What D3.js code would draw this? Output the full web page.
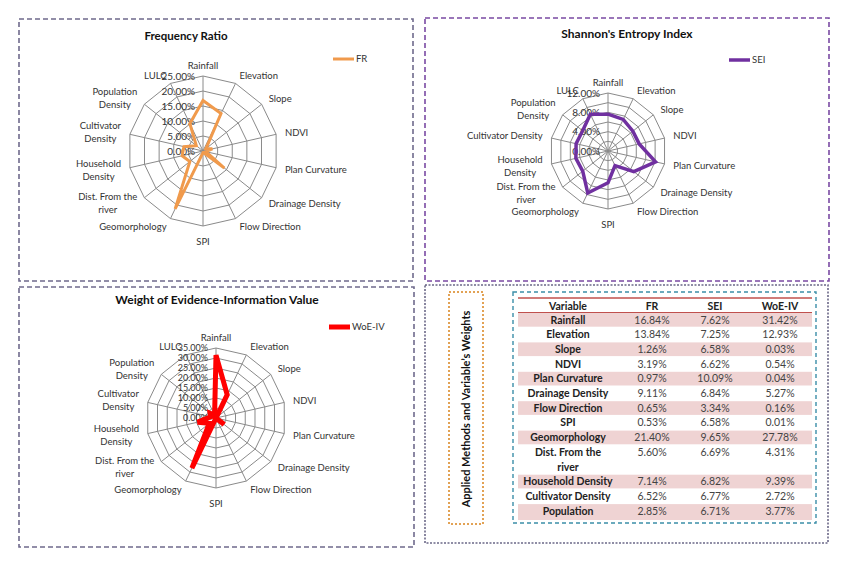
<!DOCTYPE html>
<html>
<head>
<meta charset="utf-8">
<script src="https://cdn.jsdelivr.net/npm/d3@7"></script>
<style>
  body { margin: 0; background: #fff; }
  svg { font-family: Lato, 'Open Sans', sans-serif; }
</style>
</head>
<body>
<svg id="chart" width="850" height="565"></svg>
<script>
// Variables (spokes of every radar, clockwise from the top)
var variables = ['Rainfall', 'Elevation', 'Slope', 'NDVI', 'Plan Curvature', 'Drainage Density',
  'Flow Direction', 'SPI', 'Geomorphology', 'Dist. From the river', 'Household Density',
  'Cultivator Density', 'Population Density', 'LULC'];

// weights in percent
var frValues = [16.84, 13.84, 1.26, 3.19, 0.97, 9.11, 0.65, 0.53, 21.40, 5.60, 7.14, 6.52, 2.85, 10.10];
var seiValues = [7.62, 7.25, 6.58, 6.62, 10.09, 6.84, 3.34, 6.58, 9.65, 6.69, 6.82, 6.77, 6.71, 8.44];
var woeValues = [31.42, 12.93, 0.03, 0.54, 0.04, 5.27, 0.16, 0.01, 27.78, 4.31, 9.39, 2.72, 3.77, 1.63];

// axis ticks
var frTicks = [0, 5, 10, 15, 20, 25];
var seiTicks = [0, 4, 8, 12];
var seiRings = [2, 4, 6, 8, 10, 12];
var woeTicks = [0, 5, 10, 15, 20, 25, 30, 35];

// table
var tableHeader = ['Variable', 'FR', 'SEI', 'WoE-IV'];
var tableTitle = 'Applied Methods and Variable\u2019s Weights';

var svg = d3.select('#chart');
var pct = function (v) { return v.toFixed(2) + '%'; };

function splitLabel(name) {
  if (name === 'Dist. From the river') return ['Dist. From the', 'river'];
  var i = name.lastIndexOf(' ');
  return [name.slice(0, i), name.slice(i + 1)];
}

// one Excel-like radar chart
function radar(o) {
  var g = svg.append('g');
  var n = variables.length;
  var step = 2 * Math.PI / n;
  var r = d3.scaleLinear().domain([0, o.max]).range([0, o.radius]);

  var pt = function (a, rad) {
    return [o.cx + rad * Math.sin(a), o.cy - rad * Math.cos(a)];
  };

  // rings
  o.rings.forEach(function (v) {
    var pts = variables.map(function (d, i) { return pt(i * step, r(v)); });
    g.append('path')
      .attr('d', d3.line().curve(d3.curveLinearClosed)(pts))
      .attr('fill', 'none')
      .attr('stroke', '#8a8a8a')
      .attr('stroke-width', 1);
  });

  // spokes
  variables.forEach(function (d, i) {
    var p = pt(i * step, o.radius);
    g.append('line')
      .attr('x1', o.cx).attr('y1', o.cy)
      .attr('x2', p[0]).attr('y2', p[1])
      .attr('stroke', '#8a8a8a')
      .attr('stroke-width', 1);
  });

  // category labels
  variables.forEach(function (d, i) {
    var a = i * step;
    var s = Math.sin(a), c = Math.cos(a);
    var p = pt(a, o.radius + 9);
    var ly = p[1];
    if (c > 0.98) ly -= 1;
    if (c < -0.98) ly += 7;
    var lines = o.wrap.indexOf(d) >= 0 ? splitLabel(d) : [d];
    var t = g.append('g');
    var texts = lines.map(function (l, k) {
      return t.append('text')
        .attr('y', ly + (k - (lines.length - 1) / 2) * 13)
        .attr('dy', '0.35em')
        .attr('text-anchor', 'middle')
        .attr('font-size', 9.5)
        .attr('fill', '#333')
        .text(l);
    });
    var w = d3.max(texts, function (tt) { return tt.node().getComputedTextLength(); });
    var lx = p[0];
    if (s > 0.1) lx += w / 2;
    else if (s < -0.1) lx -= w / 2;
    texts.forEach(function (tt) { tt.attr('x', lx); });
  });

  // tick labels
  o.ticks.forEach(function (v) {
    g.append('text')
      .attr('x', o.cx - 8)
      .attr('y', o.cy - r(v))
      .attr('dy', '0.35em')
      .attr('text-anchor', 'end')
      .attr('font-size', o.tickSize)
      .attr('fill', '#333')
      .text(pct(v));
  });

  // series
  var line = d3.lineRadial()
    .angle(function (d, i) { return i * step; })
    .radius(function (d) { return r(d); })
    .curve(d3.curveLinearClosed);
  g.append('path')
    .attr('transform', 'translate(' + o.cx + ',' + o.cy + ')')
    .attr('d', line(o.values))
    .attr('fill', 'none')
    .attr('stroke', o.color)
    .attr('stroke-width', o.width)
    .attr('stroke-linejoin', 'miter');

  // title
  g.append('text')
    .attr('x', o.title[1]).attr('y', o.title[2])
    .attr('dy', '0.35em')
    .attr('text-anchor', 'middle')
    .attr('font-size', o.titleSize)
    .attr('font-weight', 'bold')
    .attr('fill', '#111')
    .text(o.title[0]);

  // legend
  g.append('line')
    .attr('x1', o.legend[1]).attr('x2', o.legend[1] + 21)
    .attr('y1', o.legend[2]).attr('y2', o.legend[2])
    .attr('stroke', o.color)
    .attr('stroke-width', o.width);
  g.append('text')
    .attr('x', o.legend[1] + 23).attr('y', o.legend[2])
    .attr('dy', '0.35em')
    .attr('font-size', 9.5)
    .attr('fill', '#333')
    .text(o.legend[0]);
}

// panel frames
function frame(x0, y0, x1, y1, color, dash, w) {
  svg.append('rect')
    .attr('x', x0).attr('y', y0)
    .attr('width', x1 - x0).attr('height', y1 - y0)
    .attr('fill', 'none')
    .attr('stroke', color)
    .attr('stroke-width', w)
    .attr('stroke-dasharray', dash);
}
frame(19, 19, 413, 281, '#6f6a8c', '5,3', 1.6);
frame(425, 18, 829, 281, '#7a4aa3', '5,3', 1.6);
frame(19, 287, 414, 547, '#6f6a8c', '5,3', 1.6);
frame(425, 285, 828, 543, '#6b6888', '2,1.5', 1.6);

var wrapAll = ['Population Density', 'Cultivator Density', 'Household Density', 'Dist. From the river'];

radar({
  cx: 203, cy: 151, radius: 75, max: 25,
  rings: frTicks.slice(1), ticks: frTicks, values: frValues,
  color: '#f09a4c', width: 3, wrap: wrapAll, titleSize: 11.5, tickSize: 10,
  title: ['Frequency Ratio', 186, 36], legend: ['FR', 333, 59]
});
radar({
  cx: 608, cy: 151, radius: 58, max: 12,
  rings: seiRings, ticks: seiTicks, values: seiValues,
  color: '#7030a0', width: 3.5, titleSize: 12, tickSize: 10,
  wrap: ['Population Density', 'Household Density', 'Dist. From the river'],
  title: ["Shannon's Entropy Index", 627, 34], legend: ['SEI', 729, 60]
});
radar({
  cx: 216, cy: 418, radius: 70, max: 35,
  rings: woeTicks.slice(1), ticks: woeTicks, values: woeValues,
  color: '#ff0000', width: 5, wrap: wrapAll, titleSize: 12, tickSize: 9,
  title: ['Weight of Evidence-Information Value', 217, 300], legend: ['WoE-IV', 329, 327]
});

// vertical title box
frame(449, 292, 483, 524, '#e2a255', '2,2', 2);
svg.append('text')
  .attr('transform', 'translate(470,409) rotate(-90)')
  .attr('text-anchor', 'middle')
  .attr('font-size', 11)
  .attr('font-weight', 'bold')
  .attr('fill', '#111')
  .text(tableTitle);

// table
frame(513, 292, 816, 523, '#3b8ea8', '4,3', 1.4);
svg.append('clipPath').attr('id', 'tclip')
  .append('rect').attr('x', 514).attr('y', 293).attr('width', 301).attr('height', 227);
var tg = svg.append('g').attr('clip-path', 'url(#tclip)');

var colCenters = { 'Variable': 568, 'FR': 652, 'SEI': 715, 'WoE-IV': 780 };
var rowH = 14.7;
var tx0 = 518, tx1 = 812;

tg.append('line').attr('x1', tx0).attr('x2', tx1).attr('y1', 298).attr('y2', 298)
  .attr('stroke', '#c0504d').attr('stroke-width', 1.5);
tableHeader.forEach(function (h) {
  tg.append('text')
    .attr('x', colCenters[h]).attr('y', 306)
    .attr('dy', '0.35em')
    .attr('text-anchor', 'middle')
    .attr('font-size', 10.5)
    .attr('font-weight', 'bold')
    .attr('fill', '#222')
    .text(h);
});
tg.append('line').attr('x1', tx0).attr('x2', tx1).attr('y1', 312.5).attr('y2', 312.5)
  .attr('stroke', '#c0504d').attr('stroke-width', 1);

var y = 312.5;
variables.forEach(function (d, i) {
  var lines = (d === 'Dist. From the river' || d === 'Population Density') ? splitLabel(d) : [d];
  var h = rowH * lines.length;
  if (i % 2 === 0) {
    tg.append('rect')
      .attr('x', tx0).attr('y', y + 0.5)
      .attr('width', tx1 - tx0).attr('height', h - 1)
      .attr('fill', '#efd3d3');
  }
  lines.forEach(function (l, k) {
    tg.append('text')
      .attr('x', colCenters.Variable).attr('y', y + rowH * (k + 0.5))
      .attr('dy', '0.35em')
      .attr('text-anchor', 'middle')
      .attr('font-size', 10.5)
      .attr('font-weight', 'bold')
      .attr('fill', '#222')
      .text(l);
  });
  [['FR', frValues], ['SEI', seiValues], ['WoE-IV', woeValues]].forEach(function (c) {
    tg.append('text')
      .attr('x', colCenters[c[0]]).attr('y', y + rowH * 0.5)
      .attr('dy', '0.35em')
      .attr('text-anchor', 'middle')
      .attr('font-size', 10.5)
      .attr('fill', '#444')
      .text(pct(c[1][i]));
  });
  y += h;
});
</script>
</body>
</html>
